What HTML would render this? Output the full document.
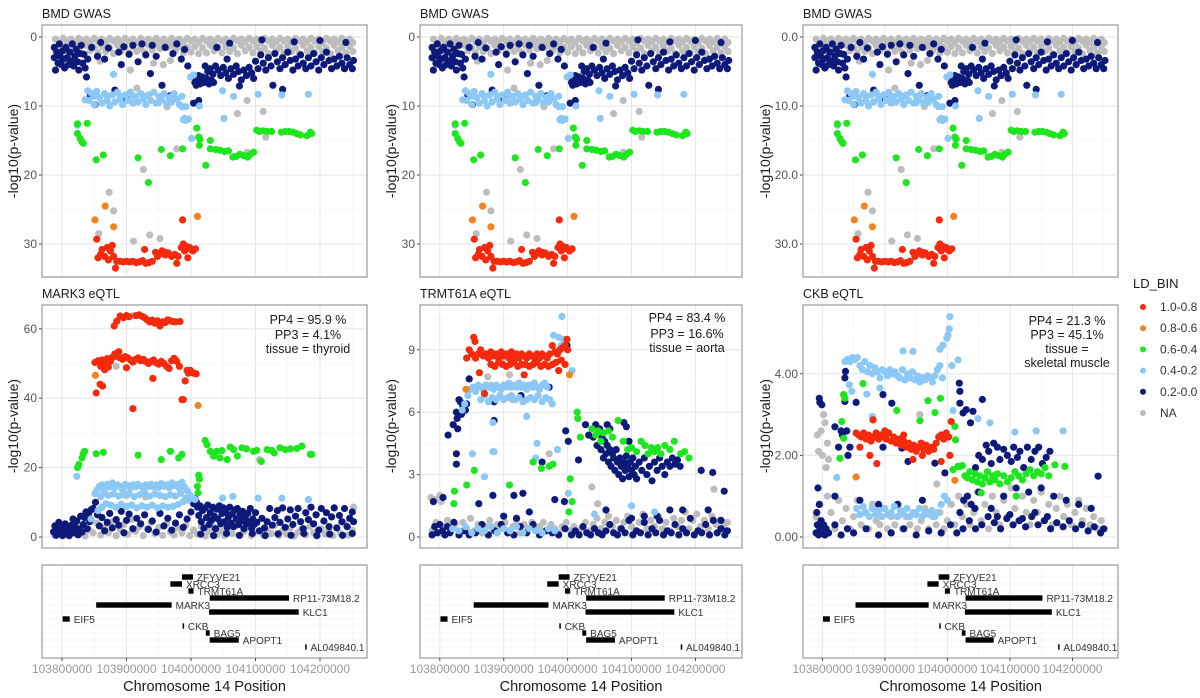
<!DOCTYPE html>
<html><head><meta charset="utf-8"><style>
html,body{margin:0;padding:0;background:#fff;}
svg{display:block;font-family:"Liberation Sans",Arial,sans-serif;}
</style></head><body>
<svg id="fig" width="1200" height="698" viewBox="0 0 1200 698" xmlns="http://www.w3.org/2000/svg"></svg>
<script>
// ---------- DATA ----------
const colors={red:"#f5290c",orange:"#f58220",green:"#1ee61e",lightblue:"#8cc8f5",navy:"#0d1a7a",gray:"#bdbdbd"};
const legendLabels=["1.0-0.8","0.8-0.6","0.6-0.4","0.4-0.2","0.2-0.0","NA"];
const legendKeys=["red","orange","green","lightblue","navy","gray"];
const geneNames=["ZFYVE21","XRCC3","TRMT61A","RP11-73M18.2","MARK3","KLC1","EIF5","CKB","BAG5","APOPT1","AL049840.1"];
const geneStarts=[186,168,196,229,53,228,1,187,223,229,377];
const geneEnds=[203,186,204,352,170,367,12,189,229,274,379];
const xTickKb=[0,100,200,300,400];
const xTickLabels=["103800000","103900000","104000000","104100000","104200000"];
const gwasTicks=[0,10,20,30];
const gwasTickLabels1=["0","10","20","30"];
const gwasTickLabels3=["0.0","10.0","20.0","30.0"];
const mark3Ticks=[0,20,40,60];
const trmtTicks=[0,3,6,9];
const ckbTicks=[0,2,4];
const ckbTickLabels=["0.00","2.00","4.00"];

const gwasGray=[-10,0.3,-10,1.8,-4,0.9,-4,2.4,2,0.2,2,1.5,8,0.7,8,2.1,14,0.3,14,1.3,20,0.8,20,2.2,26,0.2,26,1.6,32,0.6,32,2.4,38,0.3,38,1.2,44,0.7,44,2.0,50,0.2,50,1.5,56,0.6,56,2.3,62,0.3,62,1.4,68,0.8,68,2.1,74,0.2,74,1.6,80,0.6,80,2.4,86,0.3,86,1.2,92,0.7,92,2.0,98,0.2,98,1.5,104,0.6,104,2.3,110,0.3,110,1.4,116,0.8,116,2.1,122,0.2,122,1.6,128,0.6,128,2.2,134,0.3,134,1.2,140,0.7,140,1.9,146,0.2,146,1.1,152,0.6,152,1.7,158,0.3,158,1.0,164,0.7,164,1.5,170,0.2,170,1.2,176,0.6,176,2.0,182,0.3,182,1.4,188,0.7,188,2.3,194,0.2,194,1.5,200,0.6,200,2.2,206,0.3,206,1.4,212,0.8,212,2.4,218,0.2,218,1.6,224,0.6,224,2.3,230,0.3,230,1.2,236,0.7,236,2.0,242,0.2,242,1.5,248,0.6,248,2.3,254,0.3,254,1.4,260,0.8,260,2.1,266,0.2,266,1.6,272,0.6,272,2.4,278,0.3,278,1.2,284,0.7,284,2.0,290,0.2,290,1.5,296,0.6,296,2.3,302,0.3,302,1.4,308,0.8,308,2.1,314,0.2,314,1.6,320,0.6,320,2.4,326,0.3,326,1.2,332,0.7,332,2.0,338,0.2,338,1.5,344,0.6,344,2.3,350,0.3,350,1.4,356,0.8,356,2.1,362,0.2,362,1.6,368,0.6,368,2.4,374,0.3,374,1.2,380,0.7,380,2.0,386,0.2,386,1.5,392,0.6,392,2.3,398,0.3,398,1.4,404,0.8,404,2.1,410,0.2,410,1.6,416,0.6,416,2.4,422,0.3,422,1.2,428,0.7,428,2.0,434,0.2,434,1.5,440,0.6,440,2.3,446,0.3,446,1.4,451,0.8,451,2.1,
73,22.5,80,25.2,57,28.5,111,29.6,136,28.7,152,29.2,126,19.2,178,16.2,287,9.2,312,10.8,272,11.1,316,14.5,287,16.7,142,3.8,157,4,168,3.4,106,4.8,116,7.4,163,10.1,59,3.5];
const gwasNavy=[-12,1.5,-12,3,-10,4.8,-8,2.2,-6,3.8,-4,1,-3,2.8,-1,4,1,2,2,3.2,4,4.5,6,1.5,8,3,10,4,12,2.2,14,3.5,16,1,18,4.2,20,2.8,22,1.8,24,3.6,26,4.8,28,2.4,30,1.2,32,3.8,34,2.5,36,4.5,38,5.8,40,3.2,44,8.4,51,9.8,46,1.5,55,2.8,60,0.8,66,3.2,72,1.6,82,7.7,88,2.2,92,4.0,96,1.4,100,9,104,2.5,110,1.2,118,3.6,124,1.0,130,2.6,137,5.3,140,1.2,146,2.8,155,7,160,1.5,168,8.5,172,2.4,178,1.0,185,3.2,190,1.8,195,4.2,204,9.6,212,9.2,
204,5.8,206,6.6,208,7,210,6.2,212,5.6,214,6.8,216,6.2,218,5.8,220,6.6,224,6.0,228,6.8,232,6.3,235,6.6,
222,4.2,226,5,230,4.6,234,5.4,238,4.2,242,4.8,246,5.6,250,4.4,254,5.2,258,6,262,4.6,266,5.4,270,4.2,274,5,278,6.2,282,4.8,286,5.6,290,4.4,294,5.2,297,6,275,7.1,256,3.2,240,1.5,
300,3.5,304,4.6,308,2.6,312,3.8,316,4.8,320,3,324,4.2,327,7,330,2.4,334,3.6,338,4.6,342,7.6,342,3,346,4,350,2.2,354,3.4,358,4.8,362,3.2,366,4.2,370,2.6,374,3.8,378,4.6,382,3,386,4.2,390,2.4,394,3.6,398,4.8,402,3,406,4,410,2.2,414,3.4,418,4.6,422,3.2,426,4.2,430,2.8,434,3.8,438,4.6,442,3,446,4,450,4.6,452,3.4,440,0.8,400,0.5,360,0.7,310,0.4,260,0.9];
const gwasLightblue=[36,9.1,24,12.8,80,5.4,40,7.8,42,9.2,46,8.2,50,9.8,54,7.9,58,8.8,62,9.6,66,8.2,70,9.2,74,10,78,8.4,82,9.4,86,8.0,90,9.0,94,9.8,98,8.4,102,9.2,106,8.0,110,9.6,114,8.6,118,9.4,122,8.2,126,9.0,130,9.8,134,8.4,138,9.2,142,8.0,146,9.6,150,8.6,154,9.0,158,8.2,162,9.6,166,8.8,170,9.4,174,8.2,178,9.0,182,9.8,186,8.6,188,12,190,11.8,192,12.1,196,11.9,199,5.8,204,5.5,201,14.7,213,10,249,7.8,251,11.8,266,8.6,304,8.3,341,8.4,382,8.3,50,8.6,70,8.6,90,8.6,110,8.6,130,8.6,150,9.5,170,8.6,186,10.1,192,10.1];
const gwasGreen=[24,12.6,24,14,28,14.7,31,15.2,33,15.4,39,12.5,53,17.8,64,17.1,118,17.5,134,21.1,154,16.3,168,17.2,187,16.2,209,13.2,212,14.5,213,15.7,214,14.8,223,18.6,230,15,230,16.2,238,16.3,245,16.4,252,16.6,258,16.5,265,17.4,270,17.3,276,17,282,17.2,288,17.4,292,17,297,16.7,302,13.5,306,13.7,312,13.6,318,13.7,325,13.7,340,13.8,346,13.7,352,13.7,358,13.8,364,14,370,14.2,380,14.3,385,13.8,387,14];
const gwasOrange=[51,26.5,67,24.5,80,27.5,210,26];
const gwasRed=[54,29.3,56,32,60,31.5,62,30.8,66,31.8,70,30.5,72,32.3,75,31,78,30.2,80,31.8,83,33.5,85,32.5,90,32.5,95,32.6,100,32.5,105,32.6,110,32.5,115,32.7,120,32.6,125,32.4,130,32.8,135,32.7,140,32.5,128,30.8,145,31.2,150,31.5,155,31,160,31.6,165,31.3,170,31.8,175,31.5,180,31.8,178,32.8,185,30.5,188,30,190,31,192,30.3,195,32,198,30.5,200,30.8,203,31,207,30.7,187,26.5,148,31.8,160,31.2];

const mark3Gray=[-12,0.5,-6,2.4,0,1.0,6,3.2,12,0.4,18,1.8,24,0.8,30,3.0,36,0.3,42,2.0,48,1.2,54,4.0,60,0.6,66,2.6,72,1.2,78,4.4,84,0.4,90,2.2,96,3.6,102,0.8,108,5.0,114,1.6,120,3.0,126,0.4,132,2.4,138,4.2,144,1.0,150,2.8,156,0.5,162,3.8,168,1.4,174,0.6,180,2.6,186,1.2,192,3.4,198,0.4,204,2.0,210,0.8,216,3.0,222,0.3,228,1.6,234,2.8,240,0.6,246,1.8,252,0.4,258,2.4,264,1.0,270,3.2,276,0.5,282,1.6,288,2.6,294,0.4,300,1.4,306,22.3,312,0.6,318,2.0,324,1.0,330,3.4,336,0.4,342,1.8,348,0.8,354,2.6,360,0.3,366,1.4,372,2.2,378,0.6,384,3.0,390,1.2,396,0.4,402,2.4,408,0.8,414,1.8,420,0.4,426,2.8,432,1.0,438,4.0,444,0.6,450,2.0,452,8.6,84,49.2,84,52,110,63.8,130,11.5,100,12];
const mark3Navy=[-13,1.5,-11,3.2,-9,0.5,-7,2.4,-5,4.2,-3,1.2,-1,3,1,0.4,3,2.2,5,3.8,7,1,9,2.6,11,0.4,13,1.8,15,3.4,17,5.2,19,1.2,21,2.8,23,4.6,25,0.6,27,2.2,29,6,31,1.4,33,3.6,35,5.6,37,7.2,39,2.4,41,6.6,43,4.4,45,7.8,48,8.2,52,10,55,6.4,58,3.2,62,5.6,66,1.8,70,4.2,74,6.8,78,2.6,84,5,88,3.4,92,7.4,96,1.2,100,4.8,104,6.6,110,2.4,116,5.4,122,3.8,128,6.4,134,2.2,140,4.6,146,1.4,152,6.8,158,3.2,164,5.4,170,2,176,4,182,6.4,188,2.8,194,5.2,200,7.2,204,9.6,206,11,208,10.2,
210,8.6,212,6.2,214,9,216,4.4,218,7.6,220,2.6,222,8.4,224,5.6,226,9.2,228,3.6,230,7,232,4.8,234,8.6,236,6,238,2.4,240,8,242,5.2,244,9,246,3.8,248,6.8,250,8.4,252,4.4,254,7.2,256,2.8,258,5.8,260,8.6,262,4,264,6.6,266,3,268,7.8,270,5.2,272,8.2,274,3.6,276,6.4,278,4.6,280,7.4,282,2.4,284,5.6,286,3.8,288,6.8,290,4.4,292,8.2,294,2.6,296,5.2,298,3.6,300,7,302,4.2,306,1.8,310,5.4,314,2.6,318,4.4,322,8.2,326,3.4,330,5.6,334,7.6,338,4.2,342,8.4,346,2.8,350,5.2,354,7.8,358,3.6,362,6,366,8.2,370,4.4,374,2.4,378,7,382,5,386,8.6,390,3.8,394,6.4,398,2,402,8.2,406,4.6,410,7,414,3,418,5.8,422,8.4,426,2.6,430,6.2,434,4.4,438,8.2,442,3,446,5.4,450,7.2,452,4.4,
215,0.8,235,0.4,255,1,275,0.5,295,1,315,0.4,335,0.9,355,0.5,375,1,395,0.4,415,0.8,435,0.5,450,1];
const mark3Lightblue=[23,17.5,51,12.5,54,13.5,58,14.6,62,15,66,13.8,70,15.2,74,14.4,78,15.6,82,14.2,86,15,90,14.6,94,13.6,98,15.2,102,14.8,106,14.2,110,15,114,14.4,118,15.2,122,14.6,126,14,130,15,134,14.6,138,15.2,142,14.4,146,15,150,14.2,154,15.4,158,14.6,162,15,166,14.2,170,15.6,174,14.8,178,15.2,182,14,186,15.8,190,14.4,194,13.4,198,12.2,202,11.4,206,10.8,
60,11.6,64,12.6,72,12,80,12.4,88,11.8,96,12.2,104,12.6,112,11.6,120,12.2,128,12.8,136,11.8,144,12.4,152,12,160,11.6,168,12.2,176,11.8,184,12.6,192,11.2,
56,7.6,62,8.6,68,9.6,76,9.2,84,8.6,92,9.4,100,8.8,108,9.2,116,8.4,124,9,132,8.6,140,9.2,148,8.4,156,9,164,8.6,172,8.8,180,9.4,188,10.2,196,10.6,
249,11.2,265,11.7,304,11.2,341,11.2,382,10.8,45,5.2];
const mark3Green=[24,20,26,20.9,31,22.8,33,24,35,24.7,53,24,64,24.4,118,23.6,154,22.3,168,24.7,181,22.8,186,23.8,212,17.8,213,16.7,210,14.6,211,12.7,222,27.8,225,26.6,230,24.7,235,23.3,240,24.7,245,22.8,248,24.9,256,22.3,261,25.9,266,25.2,272,23.3,279,25.7,286,25.4,297,24.7,302,25,309,21.8,318,25.2,325,25,329,24.2,338,25.7,346,25.2,354,25.4,364,25.5,372,26.2,385,23.8,387,23.8];
const mark3Orange=[52,46.6,211,37.9];
const mark3Red=[81,60.8,85,62.2,90,63.7,95,63.2,100,63.8,104,63.5,115,63.8,120,64,124,63.6,128,63.2,132,62.6,136,62,140,62.5,144,61.6,148,62.3,152,60.8,156,62,160,61.8,164,62.6,168,62.3,172,62.1,176,62.0,183,62.1,
51,50.3,53,41.5,56,50.8,59,44,60,49.2,63,43.5,62,51,66,48.2,68,50,70,51.4,72,49,75,50.6,78,51.8,82,52.8,86,52,88,53.4,90,51.6,94,51.2,98,52,100,48.8,102,51.6,106,51,110,37,110,50.4,114,51.2,118,51.6,122,50.8,126,51.2,130,50.6,134,50,138,50.6,141,45.7,142,51,146,50.2,150,49.8,154,50.6,158,50,162,49.2,166,48.6,170,50.8,174,51.5,178,50.6,182,49.2,186,39.6,188,39.6,191,45,194,48,196,47.2,199,48,201,47.6,204,47.2,208,47];

const trmtGray=[-14,1.9,0,2,-12,0.3,-6,0.7,0,0.2,6,0.5,12,0.8,18,0.3,24,0.6,30,0.2,36,0.7,42,0.4,48,0.9,54,0.3,60,0.6,66,0.2,72,0.5,78,0.8,84,0.3,90,0.6,96,0.4,102,0.7,108,0.3,114,0.5,120,0.8,126,0.2,132,0.6,138,0.4,144,0.7,150,0.3,156,0.5,162,0.7,168,0.3,174,0.6,180,0.4,186,0.2,192,0.5,198,0.7,204,0.3,210,0.5,216,0.2,222,0.4,228,0.7,234,0.3,240,0.6,246,0.9,252,0.4,258,0.7,264,1.0,270,0.5,276,0.8,282,0.4,288,0.7,294,1.0,300,0.5,306,0.3,312,0.7,318,1.1,324,0.4,330,0.8,336,0.5,342,1.0,348,0.4,354,0.7,360,0.3,366,0.9,372,0.5,378,0.8,384,1.2,390,0.4,396,0.8,402,1.1,408,0.5,414,0.8,420,0.4,426,1.0,432,0.6,438,0.8,444,0.5,450,0.7,75,8.8,98,8.4,75,7.7,109,7.8,114,6.6,146,7.2,171,4.0,238,2.4,429,2.3,247,1.6,-8,1.8,2,1.7];
const trmtNavy=[-10,1.7,5,1.9,13,4.9,21,5.4,26,6,30,6.6,32,6.5,27,5.7,26,4,26,3.5,36,6.3,46,7.6,28,5.2,34,5.9,40,6.1,42,6.4,
61,1.6,83,2,85,5.6,85,6.5,127,6.8,116,2,130,2.1,160,3.6,171,7.2,199,9.2,197,5.1,201,4.6,217,3.7,228,5.4,233,4.9,
240,4.8,244,5.4,246,4.4,250,5.2,252,4.2,254,4.8,256,3.8,258,4.6,260,4.0,262,4.4,264,3.6,266,4.2,268,3.4,270,4.0,272,3.8,274,3.2,276,4.2,278,3.6,280,3.0,282,3.8,284,3.4,286,2.8,288,3.6,290,3.2,292,3.9,294,3.4,296,2.9,298,3.6,300,3.2,302,3.8,304,3.0,306,3.4,308,2.8,312,3.6,316,3.2,320,3.8,324,3.0,328,3.4,332,2.7,336,3.6,340,3.2,344,3.8,348,3.4,352,3.0,356,3.6,360,3.4,364,3.8,368,3.5,372,3.7,376,3.4,262,5.4,266,5.2,288,5.5,292,5.3,296,4.6,409,3.2,427,3.1,445,2.2,
-12,0.1,-8,0.5,-4,0.2,0,0.6,4,0.3,8,0.1,12,0.5,16,0.2,22,0.7,30,0.1,38,0.3,46,0.1,56,0.2,66,0.6,76,0.1,86,0.3,96,0.6,106,0.2,116,0.1,126,0.5,136,0.2,146,0.6,156,0.1,166,0.3,176,0.2,186,0.1,196,0.4,206,0.1,212,0.3,218,0.1,224,0.5,230,0.2,236,0.1,242,0.4,248,0.2,254,0.1,260,0.3,266,0.6,272,0.2,278,0.1,284,0.4,290,0.2,296,0.8,302,0.1,308,0.3,314,0.2,320,0.7,326,0.1,332,0.4,338,0.2,344,0.8,350,0.1,356,0.3,362,0.2,368,0.6,374,0.1,380,0.4,386,0.2,392,0.9,398,0.1,404,0.3,410,0.2,416,0.6,422,0.1,428,0.8,434,0.2,440,0.4,446,0.1,450,0.3,100,1.0,120,0.9,140,1.2,180,1.8,195,1.7,260,1.3,300,0.9,320,1.0,340,1.0,360,1.3,380,1.3,420,1.3,440,0.8];
const trmtLightblue=[35,6.1,39,6.4,44,6.8,48,7.1,52,7.2,56,7.0,60,7.3,64,7.2,68,7.1,72,7.3,76,7.2,80,7.3,84,7.1,88,7.3,92,7.2,96,7.1,100,7.3,104,7.2,108,7.4,112,7.2,116,7.3,120,7.2,124,7.4,128,7.2,132,7.3,136,7.1,140,7.3,144,7.2,148,7.4,152,7.2,156,7.1,160,7.3,164,7.4,168,7.2,
64,6.6,70,6.8,76,6.5,82,6.7,88,6.6,94,6.8,100,6.6,106,6.7,112,6.8,118,6.6,124,6.7,130,6.5,136,6.6,142,6.7,148,6.6,154,6.8,160,6.5,166,6.7,172,6.6,176,6.4,
191,10.6,178,9.7,186,9.6,194,9.5,190,9.2,207,8,51,4,70,2.9,83,5.5,83,4.1,85,4.1,136,5.8,150,3.8,152,4.5,184,4.2,201,2.1,242,1.1,300,1.5,336,1.2,
20,0.4,30,0.3,40,0.5,50,0.2,60,0.4,70,0.3,80,0.5,90,0.2,100,0.4,110,0.3,120,0.5,130,0.2,140,0.4,150,0.3,160,0.2,170,0.4,180,0.3];
const trmtGreen=[23,2.2,22,1.6,42,2.5,54,3.2,109,2.5,146,3.6,159,3.3,171,3.4,177,3.5,204,2.8,202,1.2,207,1.7,215,6,216,5.7,220,4.8,238,5.2,248,5.1,256,5,264,5.1,279,5.6,287,4.6,300,4.3,315,4.6,321,4.4,331,4.3,341,4.3,352,4.4,367,4.6,377,4,383,4.1,390,3.8,244,4.9,252,4.6,270,4.8,294,4.2,308,4.1,326,4.0,336,4.1,346,4.0,360,4.2];
const trmtOrange=[41,7.1,203,7.8];
const trmtRed=[53,9.6,55,9.4,42,8.6,46,9,50,8.8,56,8.6,60,8.8,64,9,68,8.7,72,8.8,76,8.6,80,8.9,84,8.7,88,8.8,92,8.6,96,8.9,100,8.7,104,8.8,108,8.6,112,8.9,116,8.7,120,8.8,124,8.6,128,8.8,132,8.7,136,8.6,140,8.8,144,8.7,148,8.6,152,8.8,156,8.6,160,8.8,164,8.7,168,8.6,172,8.8,176,9.2,180,8.9,184,8.8,188,9.0,192,9.1,196,9.2,199,9.5,200,9.0,
80,8.3,86,8.2,92,8.4,98,8.3,104,8.2,110,8.3,116,8.4,122,8.2,128,8.3,134,8.3,140,8.2,146,8.3,152,8.4,158,8.2,164,8.3,170,8.2,176,8.3,182,8.4,186,8.0,190,8.5,196,8.3,132,7.8,70,6.9,62,7.9];

const ckbGray=[-8,2.5,-6,2.1,-2,2.6,0,2.0,2,3.0,4,2.8,6,1.7,8,2.3,10,1.9,
-10,0.5,-4,0.8,2,0.3,8,1.0,14,0.6,20,0.2,26,0.9,32,0.4,38,0.7,44,0.2,50,0.5,56,0.9,62,0.3,68,0.6,74,0.2,80,0.8,86,0.4,92,0.3,98,0.7,104,0.2,110,0.5,116,0.3,122,0.8,128,0.2,134,0.5,140,0.3,146,0.6,152,0.2,158,0.4,164,0.7,170,0.2,176,0.5,182,0.3,188,0.6,194,0.2,200,0.4,206,0.8,212,0.3,218,1.0,224,0.5,230,0.8,236,0.3,242,0.6,248,1.1,254,0.4,260,0.8,266,0.2,272,1.0,278,0.6,284,0.3,290,0.9,296,0.5,302,1.2,308,0.7,314,0.4,320,1.0,326,0.6,332,0.3,338,0.9,344,0.6,350,1.1,356,0.4,362,0.8,368,0.3,374,0.7,380,1.0,386,0.5,392,0.8,398,0.3,404,0.6,410,0.9,416,0.4,422,0.7,428,0.3,434,0.5,440,0.2,446,0.4,451,0.2,124,3.9,156,3.0,183,1.3];
const ckbNavy=[-10,0.1,-8,0.3,-6,0.05,-4,0.2,-2,0.4,0,0.1,2,0.3,4,0.05,6,0.2,-9,0.6,-7,1.2,-5,0.8,
-5,3.4,-1,3.24,-4,3.3,37,4.06,36,3.9,36,3.32,39,2.6,41,2.0,44,2.2,54,3.3,97,3.49,111,3.28,137,1.85,97,2.2,127,2.18,180,1.81,196,1.57,219,3.77,220,3.57,225,3.04,230,3.12,241,3.08,237,2.8,256,3.37,220,3.28,30,2.6,32,2.5,20,2.7,26,2.2,
250,2.0,256,1.9,262,2.25,266,2.1,270,1.8,274,2.3,280,2.2,284,1.9,290,2.15,296,2.0,302,1.85,306,2.2,312,1.95,316,2.1,322,1.7,328,2.2,334,1.9,340,2.1,346,2.2,352,1.8,358,1.95,364,2.1,441,1.49,245,1.7,
220,0.6,226,0.9,232,1.0,238,0.8,244,0.7,250,1.1,270,0.7,290,1.0,310,1.2,330,1.1,350,1.2,370,1.0,390,0.9,410,0.8,430,0.7,60,0.9,90,0.8,120,0.8,160,0.9,20,1.0,
10,0.1,20,0.3,30,0.05,40,0.2,50,0.1,70,0.2,90,0.05,110,0.1,130,0.2,150,0.05,170,0.15,190,0.1,205,0.3,215,0.1,225,0.2,235,0.4,245,0.2,255,0.3,265,0.5,275,0.35,285,0.2,295,0.45,305,0.3,315,0.4,325,0.25,335,0.5,345,0.3,355,0.4,365,0.2,375,0.35,385,0.25,395,0.4,405,0.2,415,0.3,425,0.15,435,0.25,445,0.1,450,0.2,280,0.5,300,0.55,320,0.45,340,0.6,360,0.5];
const ckbLightblue=[36,4.3,40,4.35,44,4.3,48,4.4,52,4.35,56,4.4,60,4.2,64,4.1,68,4.3,72,4.05,76,4.2,80,4.0,84,4.15,88,4.05,92,3.9,96,4.1,100,4.05,104,3.95,108,4.1,112,4.0,116,4.05,120,3.95,124,3.9,128,4.1,132,3.85,136,4.0,140,3.9,144,4.05,148,3.85,152,3.95,156,3.8,160,3.9,164,3.85,168,3.95,172,3.9,176,3.8,180,3.95,184,4.1,188,4.2,192,3.9,129,4.56,145,4.55,204,5.4,203,5.1,201,4.95,199,4.87,193,4.7,188,4.6,217,4.34,207,4.2,43,3.73,47,3.57,71,3.5,92,3.65,80,2.95,209,3.1,249,2.9,268,2.8,308,2.57,342,2.6,385,2.6,23,1.46,
55,0.7,60,0.55,65,0.75,70,0.6,75,0.5,80,0.7,85,0.55,90,0.65,95,0.5,100,0.7,105,0.55,110,0.6,115,0.75,120,0.5,125,0.65,130,0.55,135,0.7,140,0.5,145,0.6,150,0.55,155,0.7,160,0.5,165,0.6,170,0.55,175,0.65,180,0.5,185,0.6,190,0.8,195,1.0,200,0.9];
const ckbGreen=[28,1.93,31,2.83,34,3.49,36,3.4,34,2.42,65,3.76,119,3.1,156,2.85,169,3.34,180,3.05,189,3.4,212,2.71,213,2.38,217,1.73,209,1.65,
219,1.72,224,1.75,228,1.5,232,1.45,236,1.6,240,1.4,244,1.55,248,1.35,252,1.5,256,1.3,260,1.45,264,1.6,268,1.35,272,1.5,276,1.4,280,1.55,284,1.3,290,1.5,296,1.35,302,1.45,308,1.6,314,1.5,320,1.4,326,1.55,332,1.65,338,1.5,344,1.6,350,1.55,356,1.7,362,1.5,372,1.77,388,1.73,254,1.08,310,1.0];
const ckbOrange=[54,1.47,212,1.39];
const ckbRed=[54,2.55,58,2.5,62,2.45,66,2.55,70,2.4,74,2.5,78,2.35,82,2.45,86,2.55,90,2.4,94,2.5,98,2.45,102,2.4,106,2.55,110,2.35,114,2.45,118,2.3,122,2.4,126,2.25,130,2.35,134,2.2,138,2.3,142,2.15,146,2.25,150,2.1,154,2.2,158,2.3,162,2.15,166,2.25,170,2.1,174,2.2,178,2.15,182,2.3,186,2.45,190,2.5,194,2.4,198,2.55,202,2.45,81,2.87,87,1.8,76,2.0,145,1.9,190,1.85,206,2.83,204,2.0,60,2.2,100,2.6,130,2.5,160,2.0];

// ---------- DRAWING ----------
const NS="http://www.w3.org/2000/svg";
const svg=document.getElementById("fig");
function mk(tag,attrs,parent){const e=document.createElementNS(NS,tag);for(const k in attrs)e.setAttribute(k,attrs[k]);(parent||svg).appendChild(e);return e;}
const cols=[{l:42,w:325},{l:420,w:322},{l:803,w:315}];
function xScale(c,kb){return cols[c].l+(20+kb*0.645)*cols[c].w/325;}
function makeY(y0,k){return v=>y0+v*k;}

function panel(c,top,bottom,yFn,ticks,tickLabels,minor,title,name){
  const g=mk("g",{});
  
  
  const L=cols[c].l,R=cols[c].l+cols[c].w;
  mk("rect",{x:L,y:top,width:cols[c].w,height:bottom-top,fill:"#fff"},g);
  const grid=mk("g",{},g);
  
  
  for(let kb=0;kb<=450;kb+=50){const x=xScale(c,kb);mk("line",{x1:x,x2:x,y1:top,y2:bottom,stroke:kb%100===0?"#e6e6e6":"#f2f2f2","stroke-width":kb%100===0?1:0.6},grid);}
  if(yFn){
    minor.forEach(v=>{const y=yFn(v);if(y>top&&y<bottom)mk("line",{x1:L,x2:R,y1:y,y2:y,stroke:"#f2f2f2","stroke-width":0.6},grid);});
    ticks.forEach((v,i)=>{const y=yFn(v);mk("line",{x1:L,x2:R,y1:y,y2:y,stroke:"#e6e6e6"},grid);
      mk("line",{x1:L-3,x2:L,y1:y,y2:y,stroke:"#444"},g);
      const t=mk("text",{x:L-5,y:y+4,"text-anchor":"end","font-size":12,fill:"#555"},g);t.textContent=tickLabels[i];
      
      });
  }
  if(title){const t=mk("text",{x:L,y:top-7,"font-size":12.5,fill:"#1a1a1a"},g);t.textContent=title;
    
    }
  return {g,L,R,top,bottom};
}
function drawSeries(p,c,yFn,arr,key){
  const g=mk("g",{},p.g);
  
  
  for(let i=0;i<arr.length;i+=2){const x=xScale(c,arr[i]),y=yFn(arr[i+1]);
    if(y<p.top-2||y>p.bottom+2)continue;
    const d=mk("circle",{cx:x.toFixed(1),cy:y.toFixed(1),r:3.6,fill:colors[key]},g);
    
    }
}
function border(p){mk("rect",{x:p.L,y:p.top,width:p.R-p.L,height:p.bottom-p.top,fill:"none",stroke:"#9a9a9a","stroke-width":1.2},p.g);}
function yTitle(x,cy){const t=mk("text",{x:x,y:cy,transform:`rotate(-90 ${x} ${cy})`,"text-anchor":"middle","font-size":14,fill:"#1a1a1a"});t.textContent="-log10(p-value)";
  
  }
function annot(cx,ys,lines){lines.forEach((s,i)=>{const t=mk("text",{x:cx,y:ys[i],"text-anchor":"middle","font-size":12.5,fill:"#1a1a1a"});t.textContent=s;
  
  });}

const gwasY=makeY(37,6.9);
[0,1,2].forEach(c=>{
  const p=panel(c,25,277,gwasY,gwasTicks,c===2?gwasTickLabels3:gwasTickLabels1,[5,15,25,35],"BMD GWAS","gwas-panel-"+(c+1));
  drawSeries(p,c,gwasY,gwasGray,"gray");drawSeries(p,c,gwasY,gwasNavy,"navy");drawSeries(p,c,gwasY,gwasLightblue,"lightblue");
  drawSeries(p,c,gwasY,gwasGreen,"green");drawSeries(p,c,gwasY,gwasOrange,"orange");drawSeries(p,c,gwasY,gwasRed,"red");
  border(p);
});
yTitle(18,151);yTitle(396,151);yTitle(770,151);

const mids=[
 {c:0,yFn:makeY(537,-3.47),ticks:mark3Ticks,labels:["0","20","40","60"],minor:[10,30,50],title:"MARK3 eQTL",name:"mark3-eqtl-panel",
  sets:[[mark3Gray,"gray"],[mark3Navy,"navy"],[mark3Lightblue,"lightblue"],[mark3Green,"green"],[mark3Orange,"orange"],[mark3Red,"red"]]},
 {c:1,yFn:makeY(537,-20.8),ticks:trmtTicks,labels:["0","3","6","9"],minor:[1.5,4.5,7.5,10.5],title:"TRMT61A eQTL",name:"trmt61a-eqtl-panel",
  sets:[[trmtGray,"gray"],[trmtNavy,"navy"],[trmtLightblue,"lightblue"],[trmtGreen,"green"],[trmtOrange,"orange"],[trmtRed,"red"]]},
 {c:2,yFn:makeY(537,-40.8),ticks:ckbTicks,labels:ckbTickLabels,minor:[1,3,5],title:"CKB eQTL",name:"ckb-eqtl-panel",
  sets:[[ckbGray,"gray"],[ckbNavy,"navy"],[ckbLightblue,"lightblue"],[ckbGreen,"green"],[ckbOrange,"orange"],[ckbRed,"red"]]}
];
mids.forEach(m=>{const p=panel(m.c,305,548,m.yFn,m.ticks,m.labels,m.minor,m.title,m.name);
  m.sets.forEach(s=>drawSeries(p,m.c,m.yFn,s[0],s[1]));border(p);});
yTitle(18,426);yTitle(396,426);yTitle(770,426);
annot(308,[324,339,353],["PP4 = 95.9 %","PP3 = 4.1%","tissue = thyroid"]);
annot(687,[322,338,352],["PP4 = 83.4 %","PP3 = 16.6%","tissue = aorta"]);
annot(1067,[325,339,353,367],["PP4 = 21.3 %","PP3 = 45.1%","tissue =","skeletal muscle"]);

[0,1,2].forEach(c=>{
  const p=panel(c,565,658,null,[],[],[],null,"gene-track-"+(c+1));
  geneNames.forEach((n,i)=>{const y=577+i*7;mk("line",{x1:p.L,x2:p.R,y1:y,y2:y,stroke:"#f0f0f0","stroke-width":0.7},p.g);});
  geneNames.forEach((n,i)=>{const y=577+i*7;const x1=xScale(c,geneStarts[i]),x2=xScale(c,geneEnds[i]);
    const b=mk("rect",{x:x1,y:y-2.7,width:Math.max(1.5,x2-x1),height:5.4,fill:"#000"},p.g);
    
    
    const t=mk("text",{x:x2+4,y:y+4,"font-size":10,fill:"#333"},p.g);t.textContent=n;
    
    });
  border(p);
  xTickKb.forEach((kb,i)=>{const x=xScale(c,kb);mk("line",{x1:x,x2:x,y1:658,y2:661,stroke:"#444"},p.g);
    const t=mk("text",{x:x,y:673,"text-anchor":"middle","font-size":12,fill:"#999"},p.g);t.textContent=xTickLabels[i];
    
    });
  const at=mk("text",{x:p.L+cols[c].w/2,y:691,"text-anchor":"middle","font-size":14.5,fill:"#1a1a1a"});at.textContent="Chromosome 14 Position";
  
  
});
mk("rect",{x:0,y:660,width:3,height:18,fill:"#fff"});

const lg=mk("g",{});


const lt=mk("text",{x:1133,y:288,"font-size":13,fill:"#1a1a1a"},lg);lt.textContent="LD_BIN";
legendLabels.forEach((s,i)=>{const y=307+i*21.2;
  const e=mk("g",{},lg);
  
  
  mk("circle",{cx:1143,cy:y,r:3,fill:colors[legendKeys[i]]},e);
  const t=mk("text",{x:1160,y:y+4,"font-size":12,fill:"#333"},e);t.textContent=s;});
</script>
</body></html>
